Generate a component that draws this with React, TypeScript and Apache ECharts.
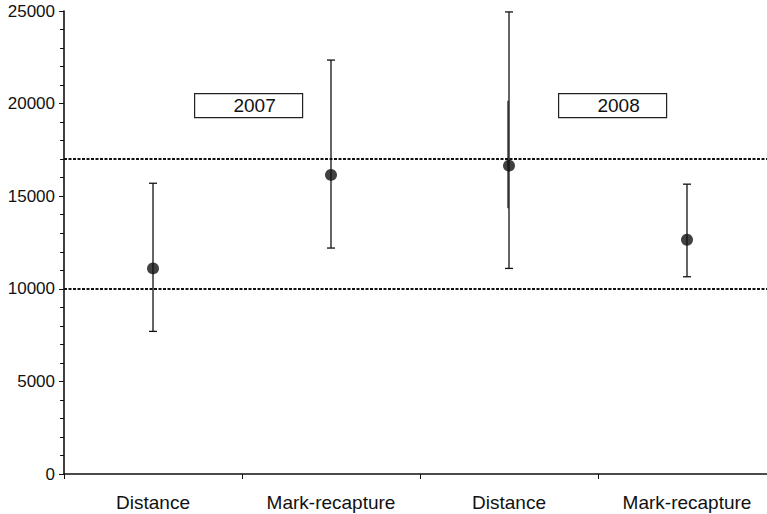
import React, { useEffect, useRef } from "react";
import * as echarts from "echarts";

const categories = ["Distance", "Mark-recapture", "Distance ", "Mark-recapture "];
const means = [11100, 16150, 16650, 12650];
const lower = [7700, 12200, 11100, 10650];
const upper = [15700, 22350, 24950, 15650];
// secondary inner interval (drawn without caps) for 2008 Distance
const innerLower = [null, null, 14350, null];
const innerUpper = [null, null, 20150, null];
const refLines = [10000, 17000];
const yearLabels = ["2007", "2008"];

export default function App() {
  const ref = useRef<HTMLDivElement>(null);
  useEffect(() => {
    if (!ref.current) return;
    const chart = echarts.init(ref.current, null, { renderer: "svg" });
    const font = "'Liberation Sans', Arial, Helvetica, sans-serif";
    const errData = categories.map((c, i) => [i, lower[i], upper[i]]);
    const innerData = categories
      .map((c, i) => [i, innerLower[i], innerUpper[i]])
      .filter((d) => d[1] != null);
    chart.setOption({
      animation: false,
      grid: { left: 64, top: 11, width: 712, height: 463, containLabel: false },
      xAxis: {
        type: "category",
        data: categories,
        axisLine: { lineStyle: { color: "#111", width: 1.6 } },
        axisTick: { show: true, length: 5, lineStyle: { color: "#111" } },
        axisLabel: {
          color: "#111",
          fontFamily: font,
          fontSize: 19,
          margin: 19,
          formatter: (v: string) => v.trim(),
        },
        splitLine: { show: false },
      },
      yAxis: {
        type: "value",
        min: 0,
        max: 25000,
        interval: 5000,
        axisLine: { show: true, lineStyle: { color: "#111", width: 1.6 } },
        axisTick: { show: true, length: 5, lineStyle: { color: "#111" } },
        minorTick: { show: true, splitNumber: 5, length: 4, lineStyle: { color: "#111" } },
        axisLabel: {
          color: "#111",
          fontFamily: font,
          fontSize: 17,
          margin: 9,
          formatter: (v: number) => String(v),
        },
        splitLine: { show: false },
      },
      series: [
        {
          type: "custom",
          data: errData,
          z: 3,
          renderItem: (params: any, api: any) => {
            const x = api.value(0);
            const lo = api.coord([x, api.value(1)]);
            const hi = api.coord([x, api.value(2)]);
            const hw = 4;
            const st = { stroke: "#111", lineWidth: 1.3 };
            return {
              type: "group",
              children: [
                { type: "line", shape: { x1: lo[0], y1: lo[1], x2: hi[0], y2: hi[1] }, style: st },
                { type: "line", shape: { x1: lo[0] - hw, y1: lo[1], x2: lo[0] + hw, y2: lo[1] }, style: st },
                { type: "line", shape: { x1: hi[0] - hw, y1: hi[1], x2: hi[0] + hw, y2: hi[1] }, style: st },
              ],
            };
          },
          markLine: {
            silent: true,
            symbol: "none",
            label: { show: false },
            lineStyle: { color: "#111", type: [3, 1.5], width: 1.8 },
            data: refLines.map((v) => ({ yAxis: v })),
          },
        },
        {
          type: "custom",
          data: innerData,
          z: 3,
          renderItem: (params: any, api: any) => {
            const x = api.value(0);
            const lo = api.coord([x, api.value(1)]);
            const hi = api.coord([x, api.value(2)]);
            return {
              type: "line",
              shape: { x1: lo[0] - 1, y1: lo[1], x2: hi[0] - 1, y2: hi[1] },
              style: { stroke: "#111", lineWidth: 1.2 },
            };
          },
        },
        {
          type: "scatter",
          data: means.map((m, i) => [i, m]),
          symbol: "circle",
          symbolSize: 12,
          itemStyle: { color: "#111" },
          z: 4,
        },
      ],
      graphic: [
        {
          type: "group",
          left: 194,
          top: 93,
          children: [
            { type: "rect", shape: { x: 0, y: 0, width: 108, height: 24 }, style: { fill: "#fff", stroke: "#222", lineWidth: 1.2 } },
            { type: "text", x: 60, y: 12, style: { text: yearLabels[0], font: "19px " + font, fill: "#111", align: "center", verticalAlign: "middle" } },
          ],
        },
        {
          type: "group",
          left: 558,
          top: 93,
          children: [
            { type: "rect", shape: { x: 0, y: 0, width: 108, height: 24 }, style: { fill: "#fff", stroke: "#222", lineWidth: 1.2 } },
            { type: "text", x: 60, y: 12, style: { text: yearLabels[1], font: "19px " + font, fill: "#111", align: "center", verticalAlign: "middle" } },
          ],
        },
      ],
    });
    return () => chart.dispose();
  }, []);
  return (
    <div style={{ width: 767, height: 514, position: "absolute", left: 0, top: 0, overflow: "hidden" }}>
      <div ref={ref} style={{ width: 790, height: 514 }} />
    </div>
  );
}
